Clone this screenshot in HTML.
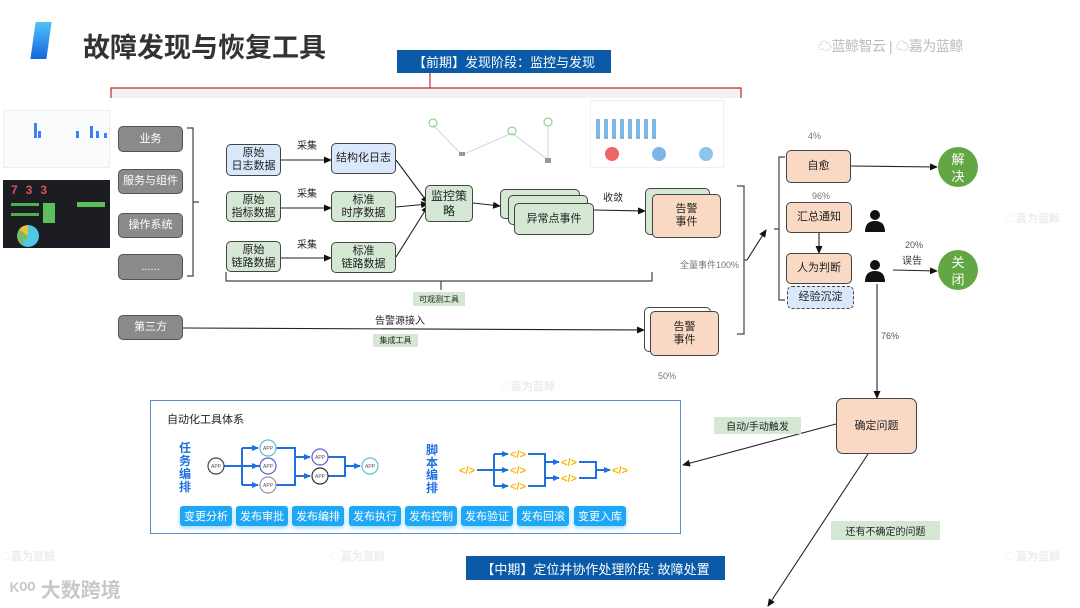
<!DOCTYPE html>
<html><head><meta charset="utf-8">
<style>
*{margin:0;padding:0;box-sizing:border-box}
body{width:1080px;height:608px;background:#fff;position:relative;overflow:hidden;font-family:"Liberation Sans","Noto Sans CJK SC",sans-serif;color:#222}
.a{position:absolute}
.b{position:absolute;display:flex;align-items:center;justify-content:center;text-align:center;font-size:11px;line-height:13px;border:1.3px solid #444;border-radius:5px}
.g{background:#d5e8d4}.bl{background:#dae8fc}.p{background:#fad9c4}
.gr{background:#8a8a8a;color:#fff;border-color:#555;font-size:11px}
.lab{position:absolute;font-size:10px;color:#222}
.tag{position:absolute;background:#d5e8d4;font-size:8px;display:flex;align-items:center;justify-content:center}
.btn{position:absolute;top:506px;width:52px;height:20px;background:#1ea7f5;color:#fff;font-size:11px;border-radius:3px;display:flex;align-items:center;justify-content:center;box-shadow:0 2px 4px #9cd8fb}
.wm{position:absolute;color:#ececec;font-size:11px;font-weight:bold}
</style></head><body>
<div class="a" style="left:33px;top:22px;width:16px;height:37px;background:linear-gradient(#4fc3f7,#1565e0);transform:skewX(-8deg)"></div>
<div class="a" style="left:83px;top:26px;font-size:27px;font-weight:bold;color:#333">故障发现与恢复工具</div>
<div class="a" style="left:818px;top:36px;font-size:14px;color:#bbb;letter-spacing:-0.5px">☁蓝鲸智云 | ☁嘉为蓝鲸</div>
<div class="a" style="left:397px;top:50px;width:214px;height:23px;background:#0a5aa8;color:#fff;font-size:13px;display:flex;align-items:center;justify-content:center">【前期】发现阶段：监控与发现</div>
<div class="a" style="left:111px;top:88px;width:630px;height:10px;background:#f2f2f2"></div>

<div class="a" style="left:3px;top:110px;width:107px;height:58px;background:#fafbfd;border:1px solid #eee">
<div class="a" style="left:30px;top:12px;width:3px;height:15px;background:#3b82f6"></div>
<div class="a" style="left:34px;top:20px;width:3px;height:7px;background:#3b82f6"></div>
<div class="a" style="left:72px;top:20px;width:3px;height:7px;background:#3b82f6"></div>
<div class="a" style="left:86px;top:15px;width:3px;height:12px;background:#3b82f6"></div>
<div class="a" style="left:92px;top:20px;width:3px;height:7px;background:#3b82f6"></div>
<div class="a" style="left:100px;top:22px;width:3px;height:5px;background:#3b82f6"></div>
</div>
<div class="a" style="left:3px;top:180px;width:107px;height:68px;background:#1b1d22">
<div class="a" style="left:8px;top:3px;color:#e0505a;font-weight:bold;font-size:12px;letter-spacing:8px">733</div>
<div class="a" style="left:8px;top:23px;width:28px;height:3px;background:#4caf50"></div>
<div class="a" style="left:8px;top:33px;width:28px;height:3px;background:#4caf50"></div>
<div class="a" style="left:40px;top:23px;width:12px;height:20px;background:#5cbf5c"></div>
<div class="a" style="left:74px;top:22px;width:28px;height:5px;background:#5cbf5c"></div>
<div class="a" style="left:14px;top:45px;width:22px;height:22px;border-radius:50%;background:conic-gradient(#4dc9e6 0 60%,#7bb96a 60% 85%,#e8c240 85%)"></div>
</div>

<svg class="a" style="left:420px;top:98px" width="140" height="68">
<g stroke="#ccc" stroke-width="0.8"><line x1="13" y1="27" x2="42" y2="57"/><line x1="42" y1="57" x2="92" y2="35"/><line x1="92" y1="35" x2="128" y2="62"/><line x1="128" y1="28" x2="128" y2="62"/></g>
<circle cx="13" cy="25" r="4" fill="none" stroke="#7c7"/><circle cx="92" cy="33" r="4" fill="none" stroke="#7c7"/><circle cx="128" cy="24" r="4" fill="none" stroke="#7c7"/>
<rect x="39" y="54" width="6" height="4" fill="#999"/><rect x="125" y="60" width="6" height="5" fill="#999"/>
</svg>
<div class="a" style="left:590px;top:100px;width:134px;height:68px;border:1px solid #eef">
<div class="a" style="left:5px;top:18px;width:60px;height:20px;background:repeating-linear-gradient(90deg,#7ab8e6 0 4px,transparent 4px 8px)"></div>
<div class="a" style="left:14px;top:46px;width:14px;height:14px;border-radius:50%;background:#e66"></div>
<div class="a" style="left:61px;top:46px;width:14px;height:14px;border-radius:50%;background:#7bb6e6"></div>
<div class="a" style="left:108px;top:46px;width:14px;height:14px;border-radius:50%;background:#8cc4ee"></div>
</div>

<svg class="a" style="left:0;top:0" width="1080" height="608">
<defs><marker id="ar" markerWidth="8" markerHeight="8" refX="7" refY="4" orient="auto" markerUnits="userSpaceOnUse"><path d="M0,0.5 L8,4 L0,7.5z" fill="#111"/></marker>
<marker id="bar" markerWidth="7" markerHeight="7" refX="6" refY="3.5" orient="auto" markerUnits="userSpaceOnUse"><path d="M0,0.5 L7,3.5 L0,6.5z" fill="#1e6fe0"/></marker></defs>
<g fill="none" stroke="#c62828" stroke-width="1.2"><path d="M111,98 V88 H741 V98"/><line x1="430" y1="73" x2="430" y2="88"/></g>
<g fill="none" stroke="#444" stroke-width="1.2">
<path d="M187,128 H193 V276 H187 M193,202 H199"/>
<path d="M226,272 V281 H652 V272 M441,281 V290"/>
<path d="M737,186 H744 V334 H737 M744,260 H747"/>
<path d="M785,157 H779 V300 H785 M779,229 H774"/>
</g>
<g stroke="#222" stroke-width="1.1" fill="none" marker-end="url(#ar)">
<line x1="281" y1="160" x2="331" y2="160"/>
<line x1="281" y1="208" x2="331" y2="208"/>
<line x1="281" y1="258" x2="331" y2="258"/>
<line x1="396" y1="160" x2="428" y2="203"/>
<line x1="396" y1="207" x2="428" y2="204"/>
<line x1="396" y1="257" x2="428" y2="206"/>
<line x1="473" y1="203" x2="500" y2="206"/>
<line x1="594" y1="210" x2="645" y2="211"/>
<line x1="183" y1="328" x2="644" y2="330"/>
<path d="M747,260 L766,230"/>
<line x1="851" y1="166" x2="937" y2="167"/>
<line x1="819" y1="233" x2="819" y2="253"/>
<line x1="893" y1="270" x2="937" y2="271"/>
<line x1="877" y1="284" x2="877" y2="398"/>
<line x1="836" y1="424" x2="683" y2="465"/>
<line x1="868" y1="454" x2="768" y2="606"/>
</g>
<g fill="#111"><circle cx="875" cy="215" r="5"/><path d="M865,232 Q865,221 875,221 Q885,221 885,232z"/>
<circle cx="875" cy="265" r="5"/><path d="M865,282 Q865,271 875,271 Q885,271 885,282z"/></g>
<circle cx="958" cy="167" r="20" fill="#62a744"/><circle cx="958" cy="270" r="20" fill="#62a744"/>
</svg>

<div class="b gr" style="left:118px;top:126px;width:65px;height:26px">业务</div>
<div class="b gr" style="left:118px;top:169px;width:65px;height:25px">服务与组件</div>
<div class="b gr" style="left:118px;top:213px;width:65px;height:25px">操作系统</div>
<div class="b gr" style="left:118px;top:254px;width:65px;height:26px">......</div>
<div class="b gr" style="left:118px;top:315px;width:65px;height:25px">第三方</div>

<div class="b bl" style="left:226px;top:144px;width:55px;height:32px">原始<br>日志数据</div>
<div class="b g" style="left:226px;top:191px;width:55px;height:31px">原始<br>指标数据</div>
<div class="b g" style="left:226px;top:241px;width:55px;height:31px">原始<br>链路数据</div>
<div class="b bl" style="left:331px;top:143px;width:65px;height:31px">结构化日志</div>
<div class="b g" style="left:331px;top:191px;width:65px;height:31px">标准<br>时序数据</div>
<div class="b g" style="left:331px;top:242px;width:65px;height:31px">标准<br>链路数据</div>
<div class="lab" style="left:297px;top:137px">采集</div>
<div class="lab" style="left:297px;top:185px">采集</div>
<div class="lab" style="left:297px;top:236px">采集</div>
<div class="b g" style="left:425px;top:185px;width:48px;height:37px;font-size:12px;line-height:15px">监控策<br>略</div>
<div class="b g" style="left:500px;top:189px;width:80px;height:30px"></div>
<div class="b g" style="left:508px;top:195px;width:80px;height:30px"></div>
<div class="b g" style="left:514px;top:203px;width:80px;height:32px">异常点事件</div>
<div class="lab" style="left:603px;top:189px">收敛</div>
<div class="b g" style="left:645px;top:188px;width:65px;height:47px"></div>
<div class="b p" style="left:652px;top:194px;width:69px;height:44px;font-size:11px">告警<br>事件</div>
<div class="tag" style="left:413px;top:292px;width:52px;height:14px">可观测工具</div>
<div class="lab" style="left:375px;top:312px">告警源接入</div>
<div class="tag" style="left:373px;top:334px;width:45px;height:13px">集成工具</div>
<div class="b" style="left:644px;top:307px;width:67px;height:45px;background:#fff"></div>
<div class="b p" style="left:650px;top:311px;width:69px;height:45px">告警<br>事件</div>
<div class="lab" style="left:680px;top:258px;color:#777;font-size:9px">全量事件100%</div>
<div class="lab" style="left:658px;top:371px;color:#777;font-size:9px">50%</div>
<div class="lab" style="left:808px;top:131px;color:#777;font-size:9px">4%</div>
<div class="lab" style="left:812px;top:191px;color:#777;font-size:9px">96%</div>
<div class="b p" style="left:786px;top:150px;width:65px;height:33px">自愈</div>
<div class="b p" style="left:786px;top:202px;width:66px;height:31px">汇总通知</div>
<div class="b p" style="left:786px;top:253px;width:66px;height:31px">人为判断</div>
<div class="b bl" style="left:787px;top:286px;width:67px;height:23px;border-style:dashed">经验沉淀</div>
<div class="a" style="left:938px;top:148px;width:40px;height:40px;color:#fff;font-size:13px;line-height:17px;display:flex;align-items:center;justify-content:center;text-align:center">解<br>决</div>
<div class="a" style="left:938px;top:251px;width:40px;height:40px;color:#fff;font-size:13px;line-height:17px;display:flex;align-items:center;justify-content:center;text-align:center">关<br>闭</div>
<div class="lab" style="left:905px;top:240px;color:#555;font-size:9px">20%</div>
<div class="lab" style="left:902px;top:252px;color:#333">误告</div>
<div class="lab" style="left:881px;top:331px;color:#555;font-size:9px">76%</div>
<div class="b p" style="left:836px;top:398px;width:81px;height:56px;border-radius:7px">确定问题</div>
<div class="tag" style="left:714px;top:417px;width:87px;height:17px;font-size:10px">自动/手动触发</div>
<div class="tag" style="left:831px;top:521px;width:109px;height:19px;font-size:10px">还有不确定的问题</div>

<div class="a" style="left:150px;top:400px;width:531px;height:134px;border:1px solid #5b8bd0;background:#fff"></div>
<div class="a" style="left:167px;top:411px;font-size:11px">自动化工具体系</div>
<div class="a" style="left:179px;top:442px;width:14px;font-size:12px;line-height:13px;color:#1e6fe0;font-weight:bold">任务编排</div>
<div class="a" style="left:426px;top:444px;width:14px;font-size:12px;line-height:12.5px;color:#1e6fe0;font-weight:bold">脚本编排</div>
<svg class="a" style="left:0;top:0" width="700" height="540">
<g stroke="#1e6fe0" stroke-width="2" fill="none">
<path d="M224,466 H276"/><path d="M242,448 V485"/>
<path d="M242,448 H258" marker-end="url(#bar)"/><path d="M242,466 H258" marker-end="url(#bar)"/><path d="M242,485 H258" marker-end="url(#bar)"/>
<path d="M276,448 H295 V485 H276"/><path d="M295,457 H310" marker-end="url(#bar)"/><path d="M295,476 H310" marker-end="url(#bar)"/>
<path d="M328,457 H345 V476 H328"/><path d="M345,466 H360" marker-end="url(#bar)"/>
<path d="M477,470 H494"/><path d="M494,454 V486"/>
<path d="M494,454 H508" marker-end="url(#bar)"/><path d="M494,470 H508" marker-end="url(#bar)"/><path d="M494,486 H508" marker-end="url(#bar)"/>
<path d="M528,454 H545 V486 H528"/><path d="M545,462 H559" marker-end="url(#bar)"/><path d="M545,478 H559" marker-end="url(#bar)"/>
<path d="M579,462 H596 V478 H579"/><path d="M596,470 H610" marker-end="url(#bar)"/>
</g>
<g stroke-width="1.2" fill="#fff">
<circle cx="216" cy="466" r="8" stroke="#444"/><circle cx="268" cy="448" r="8" stroke="#5bc0d8"/><circle cx="268" cy="466" r="8" stroke="#6a5bd0"/><circle cx="268" cy="485" r="8" stroke="#999"/>
<circle cx="320" cy="457" r="8" stroke="#6a5bd0"/><circle cx="320" cy="476" r="8" stroke="#333"/><circle cx="370" cy="466" r="8" stroke="#5bc0d8"/>
</g>
<g font-size="5" fill="#555" text-anchor="middle" font-family="Liberation Sans">
<text x="216" y="468">APP</text><text x="268" y="450">APP</text><text x="268" y="468">APP</text><text x="268" y="487">APP</text><text x="320" y="459">APP</text><text x="320" y="478">APP</text><text x="370" y="468">APP</text></g>
<g font-size="11" fill="#f5b800" text-anchor="middle" font-family="Liberation Sans" font-weight="bold">
<text x="467" y="474">&lt;/&gt;</text><text x="518" y="458">&lt;/&gt;</text><text x="518" y="474">&lt;/&gt;</text><text x="518" y="490">&lt;/&gt;</text><text x="569" y="466">&lt;/&gt;</text><text x="569" y="482">&lt;/&gt;</text><text x="620" y="474">&lt;/&gt;</text></g>
</svg>
<div class="btn" style="left:180px">变更分析</div>
<div class="btn" style="left:236px">发布审批</div>
<div class="btn" style="left:292px">发布编排</div>
<div class="btn" style="left:349px">发布执行</div>
<div class="btn" style="left:405px">发布控制</div>
<div class="btn" style="left:461px">发布验证</div>
<div class="btn" style="left:517px">发布回滚</div>
<div class="btn" style="left:574px">变更入库</div>

<div class="a" style="left:466px;top:556px;width:259px;height:24px;background:#0a5aa8;color:#fff;font-size:13px;display:flex;align-items:center;justify-content:center">【中期】定位并协作处理阶段: 故障处置</div>
<div class="a" style="left:10px;top:574px;font-size:20px;color:#c8c8c8;font-weight:bold">ᴷ⁰⁰ 大数跨境</div>
<div class="wm" style="left:0;top:548px">☁嘉为蓝鲸</div>
<div class="wm" style="left:330px;top:548px">☁嘉为蓝鲸</div>
<div class="wm" style="left:1005px;top:548px">☁嘉为蓝鲸</div>
<div class="wm" style="left:1005px;top:210px">☁嘉为蓝鲸</div>
<div class="wm" style="left:500px;top:378px">☁嘉为蓝鲸</div>
</body></html>
